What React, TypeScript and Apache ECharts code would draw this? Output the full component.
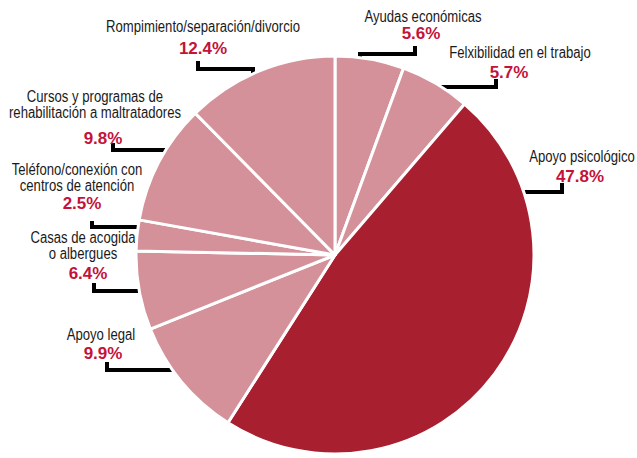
import React, { useEffect, useRef } from "react";
import * as echarts from "echarts";

const categories = [
  "Ayudas económicas",
  "Felxibilidad en el trabajo",
  "Apoyo psicológico",
  "Apoyo legal",
  "Casas de acogida\no albergues",
  "Teléfono/conexión con\ncentros de atención",
  "Cursos y programas de\nrehabilitación a maltratadores",
  "Rompimiento/separación/divorcio",
];
const values = [5.6, 5.7, 47.8, 9.9, 6.4, 2.5, 9.8, 12.4];
const highlighted = [false, false, true, false, false, false, false, false];

// name block centers, value centers and bracket leader lines (annotation layout)
const namePos: [number, number][] = [
  [423, 17],
  [520, 53],
  [582, 157],
  [101, 335],
  [83, 246],
  [77, 178],
  [95, 105],
  [203, 27],
];
const valuePos: [number, number][] = [
  [421, 33],
  [509, 72],
  [580, 176],
  [103, 353],
  [88, 273],
  [82, 203],
  [103, 138],
  [203, 48],
];
const leaderLines: number[][][] = [
  [[415, 46], [415, 54], [360, 54], [360, 62]],
  [[496, 79], [496, 87], [442, 87], [442, 95]],
  [[562, 183], [562, 192], [507, 192], [507, 199]],
  [[107, 362], [107, 370], [186, 370], [186, 377]],
  [[94, 283], [94, 291], [148, 291], [148, 299]],
  [[92, 221], [92, 227], [145, 227], [145, 235]],
  [[113, 143], [113, 150], [167, 150], [167, 158]],
  [[198, 61], [198, 69], [253, 69], [253, 77]],
];

export default function App() {
  const ref = useRef<HTMLDivElement>(null);
  useEffect(() => {
    if (!ref.current) return;
    const chart = echarts.init(ref.current, null, { renderer: "svg" });
    chart.setOption({
      animation: false,
      backgroundColor: "#ffffff",
      graphic: categories.map((c, i) => ({
        type: "text",
        x: namePos[i][0],
        y: namePos[i][1],
        scaleX: 0.82,
        silent: true,
        style: {
          text: c,
          fill: "#1a1a1a",
          font: '16px "Liberation Sans", Arial, sans-serif',
          lineHeight: 16,
          align: "center",
          verticalAlign: "middle",
        },
      })),
      series: [
        {
          type: "pie",
          center: [335, 255],
          radius: 199,
          startAngle: 90,
          clockwise: true,
          data: categories.map((c, i) => ({
            name: c,
            value: values[i],
            itemStyle: { color: highlighted[i] ? "#a82030" : "#d4919a" },
          })),
          itemStyle: { borderColor: "#ffffff", borderWidth: 3 },
          label: {
            show: true,
            position: "outside",
            overflow: "none",
            formatter: (p: any) => `${values[p.dataIndex].toFixed(1)}%`,
            fontFamily: "Liberation Sans, Arial, sans-serif",
            fontSize: 17,
            fontWeight: "bold",
            color: "#c4123a",
          },
          labelLine: {
            show: true,
            lineStyle: { color: "#000000", width: 4, cap: "butt", join: "miter" },
          },
          labelLayout: (params: any) => {
            const i = params.dataIndex;
            return {
              x: valuePos[i][0],
              y: valuePos[i][1],
              align: "center",
              verticalAlign: "middle",
              labelLinePoints: leaderLines[i],
            };
          },
          emphasis: { disabled: true },
        },
      ],
    });
    return () => chart.dispose();
  }, []);
  return (
    <div
      ref={ref}
      style={{ position: "fixed", left: 0, top: 0, width: 637, height: 458 }}
    />
  );
}
